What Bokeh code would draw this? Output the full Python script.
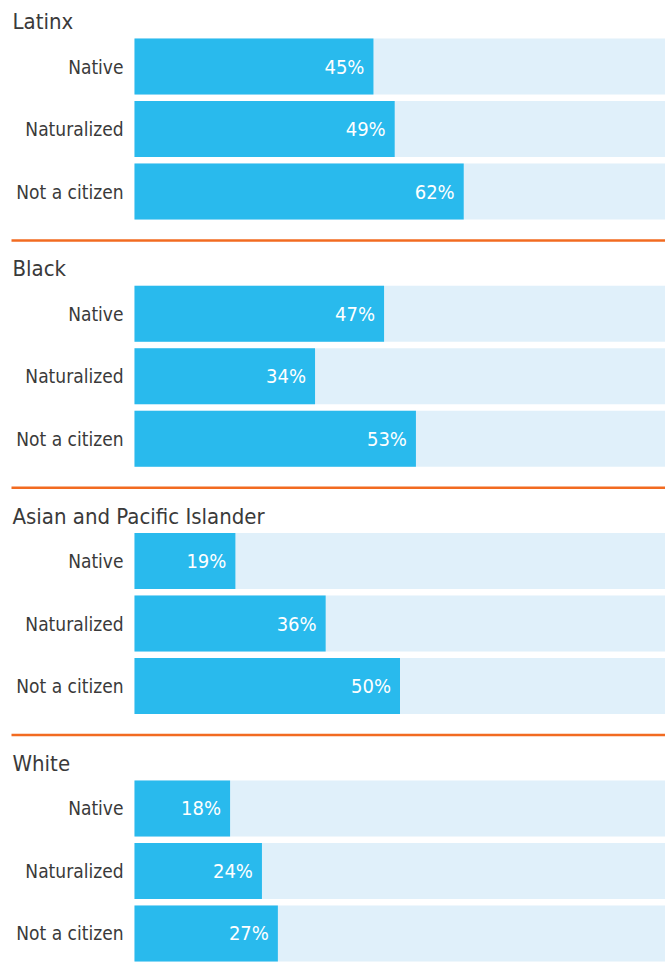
from bokeh.plotting import figure
from bokeh.models import ColumnDataSource, Range1d
from bokeh.core.properties import value
from bokeh.embed import file_html
from bokeh.resources import INLINE

groups = ["Latinx", "Black", "Asian and Pacific Islander", "White"]
rows = ["Native", "Naturalized", "Not a citizen"]
latinx = [45, 49, 62]
black = [47, 34, 53]
asian = [19, 36, 50]
white = [18, 24, 27]
series = [latinx, black, asian, white]

FONT = value("DejaVu Sans Condensed")
BLUE = "#29BAED"
LIGHT = "#E0F0FA"
TXT = "#3A3A3A"
ORANGE = "#F26B21"

W, H = 665, 972
LEFT_PX = 134
XMIN = -100 * LEFT_PX / (W - LEFT_PX)
PXU = W / (100 - XMIN)  # px per unit
FIRST, GP, RP, BH = 66, 247.3, 62.5, 56

ys, vals, labs, vtxt = [], [], [], []
for g, vs in enumerate(series):
    for r, v in enumerate(vs):
        ys.append(FIRST + g * GP + r * RP)
        vals.append(v)
        labs.append(rows[r])
        vtxt.append(f"{v}%")
src = ColumnDataSource(dict(y=ys, v=vals, lab=labs, vt=vtxt, full=[100] * len(ys)))

ty = [FIRST + g * GP - 45 for g in range(len(groups))]
tsrc = ColumnDataSource(dict(y=ty, t=groups, x=[XMIN] * len(groups)))
ly = [FIRST + g * GP + 2 * RP + 49 for g in range(len(groups) - 1)]
lsrc = ColumnDataSource(dict(y=ly, x0=[XMIN + 11 / PXU] * len(ly), x1=[100] * len(ly)))

p = figure(width=W, height=H, output_backend="svg", toolbar_location=None,
           x_range=Range1d(XMIN, 100), y_range=Range1d(H, 0),
           x_axis_location=None, y_axis_location=None, min_border=0)
p.grid.visible = False
p.outline_line_color = None

p.hbar(y="y", left=0, right="full", height=BH, source=src, color=LIGHT, line_color=None)
p.hbar(y="y", left=0, right="v", height=BH, source=src, color=BLUE, line_color=None)
p.text(x=0, y="y", text="lab", source=src, x_offset=-11, text_align="right",
       text_baseline="middle", text_font=FONT, text_font_size="19px", text_color=TXT)
p.text(x="v", y="y", text="vt", source=src, x_offset=-9, text_align="right",
       text_baseline="middle", text_font=FONT, text_font_size="20px", text_color="white")
p.text(x="x", y="y", text="t", source=tsrc, x_offset=12, text_align="left",
       text_baseline="middle", text_font=FONT, text_font_size="22px", text_color=TXT)
p.segment(x0="x0", x1="x1", y0="y", y1="y", source=lsrc, line_color=ORANGE, line_width=2.5)

open("out.html", "w").write(file_html(p, INLINE))
